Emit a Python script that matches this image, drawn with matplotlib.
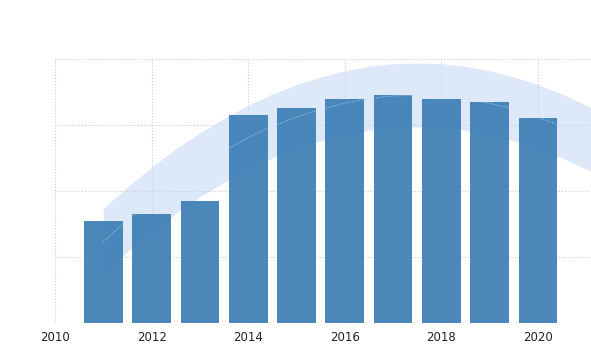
import numpy as np
import matplotlib
matplotlib.use('Agg')
import matplotlib.pyplot as plt

# bar values (arbitrary units, grid step = 1)
years = [2011, 2012, 2013, 2014, 2015, 2016, 2017, 2018, 2019, 2020]
values = [1.55, 1.65, 1.85, 3.15, 3.26, 3.39, 3.45, 3.39, 3.35, 3.11]

# trend line and its band, read at half-year steps
trend_x = [2011, 2011.5, 2012, 2012.5, 2013, 2013.5, 2014, 2014.5, 2015, 2015.5, 2016, 2016.5,
           2017, 2017.5, 2018, 2018.5, 2019, 2019.5, 2020, 2020.5, 2021, 2021.2]
trend_mid = [1.23, 1.56, 1.86, 2.14, 2.39, 2.61, 2.81, 2.98, 3.12, 3.24, 3.33, 3.40,
             3.44, 3.45, 3.44, 3.40, 3.33, 3.24, 3.12, 2.98, 2.81, 2.74]
trend_upper = [1.74, 2.06, 2.36, 2.64, 2.88, 3.10, 3.30, 3.47, 3.61, 3.73, 3.82, 3.89,
               3.93, 3.94, 3.93, 3.89, 3.82, 3.73, 3.61, 3.47, 3.30, 3.23]
trend_lower = [0.75, 1.08, 1.38, 1.66, 1.91, 2.13, 2.33, 2.50, 2.64, 2.76, 2.85, 2.92,
               2.96, 2.97, 2.96, 2.92, 2.85, 2.76, 2.64, 2.50, 2.33, 2.26]

xticks = [2010, 2012, 2014, 2016, 2018, 2020]

fig = plt.figure(figsize = (5.91, 3.52), dpi = 100)
ax = fig.add_axes([55 / 591, 29 / 352, 536 / 591, 264 / 352])

ax.xaxis.grid(True, ls = 'dotted', lw = 0.8, color = '#cccccc')
ax.yaxis.grid(True, ls = 'dotted', lw = 0.8, color = '#cccccc')
ax.set_axisbelow(True)

# trend band behind the (slightly see-through) bars
ax.fill_between(trend_x, trend_lower, trend_upper, color = '#c2d7f5', alpha = 0.55,
    linewidth = 0, zorder = 1)
ax.bar(years, values, width = 0.8, color = '#4181b6', alpha = 0.95, zorder = 2)
ax.plot(trend_x, trend_mid, color = '#cfe2ff', lw = 0.7, ls = (0, (1, 1.5)), alpha = 0.8, zorder = 4)

ax.set_xlim(2010, 2010 + 536 / 48.3)
ax.set_ylim(0, 4)
ax.set_xticks(xticks)
ax.set_xticklabels([str(x) for x in xticks], fontsize = 8.5, color = '#222222')
ax.set_yticks([0, 1, 2, 3, 4])
ax.set_yticklabels([])
ax.tick_params(axis = 'both', length = 0, pad = 6)
for s in ax.spines.values():
    s.set_visible(False)

plt.savefig('out.png', dpi = 100)
